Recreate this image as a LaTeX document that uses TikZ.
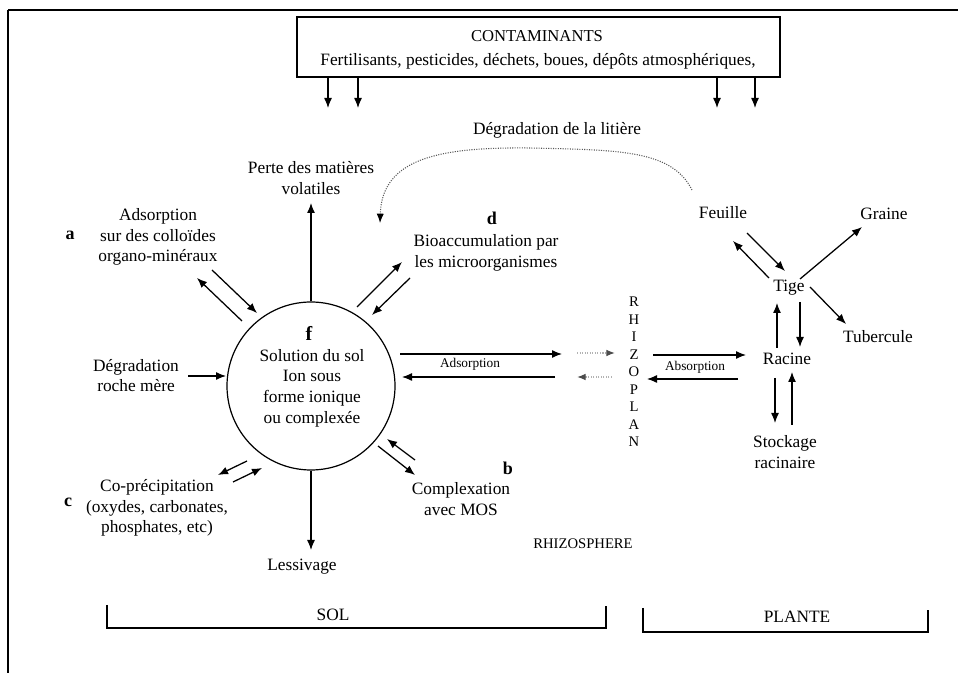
\documentclass[tikz,border=0pt]{standalone}
\usepackage{fontspec}
\setmainfont{Liberation Serif}
\usetikzlibrary{arrows.meta}
\begin{document}
\begin{tikzpicture}[x=0.75pt,y=-0.75pt,
  lbl/.style={font=\fontsize{13}{15.5}\selectfont, align=center, inner sep=0pt},
  sml/.style={font=\fontsize{10}{12}\selectfont, inner sep=0pt},
  tag/.style={font=\bfseries\fontsize{13.5}{16}\selectfont, inner sep=0pt},
  arr/.style={line width=0.95pt, -{Latex[length=7.5pt,width=6pt]}},
  garr/.style={line width=0.9pt, gray!60, densely dotted, -{Latex[length=6.5pt,width=5pt,gray!60!black]}},
  brk/.style={line width=0.9pt},
]
\useasboundingbox (0,0) rectangle (958,673);
% frame
\draw[line width=2pt] (8,10) coordinate (fTL) -- (958,10) coordinate (fTR);
\draw[line width=2pt] (fTL) -- (8,673) coordinate (fBL);

% contaminants box
\node[draw, line width=0.8pt, minimum width=362.25pt, minimum height=45pt, inner sep=0pt] (cont) at (538.5,47) {};
\node[lbl, font=\fontsize{12.5}{15}\selectfont] (contT) at (537,36) {CONTAMINANTS};
\node[lbl] (contL) at (538,61) {Fertilisants, pesticides, déchets, boues, dépôts atmosphériques,};
\coordinate (c1) at (328,108);
\coordinate (c2) at (358,108);
\coordinate (c3) at (717,108);
\coordinate (c4) at (755,108);
\foreach \c in {c1,c2,c3,c4} \draw[arr] (cont.south -| \c) -- (\c);

% litiere
\node[lbl] (lit) at (557,130) {Dégradation de la litière};
\coordinate (litA) at (692,190);
\coordinate (litB) at (380,223);
\draw[line width=0.8pt, gray!70!black, densely dotted, -{Latex[length=7pt,width=5.5pt,black]}]
  (litA) .. controls (672,150) and (620,150) .. (530,148)
         .. controls (440,147) and (382,158) .. (litB);

% soil solution
\node[draw, circle, line width=0.9pt, minimum size=126pt, inner sep=0pt] (sol) at (311,386) {};
\node[lbl] (solT) at (312,388) {Solution du sol\\Ion sous\\forme ionique\\ou complexée};
\node[font=\bfseries\fontsize{15}{18}\selectfont, inner sep=0pt] (f) at (309,333) {f};

% perte
\node[lbl] (perte) at (311,178) {Perte des matières\\volatiles};
\coordinate (pT) at (311,203);
\draw[arr] (sol.north) -- (pT);

% adsorption a
\node[tag] (ta) at (70,235) {a};
\node[lbl] (ads) at (158,237) {Adsorption\\sur des colloïdes\\organo-minéraux};
\coordinate (a1s) at (242,321); \coordinate (a1e) at (197,278);
\coordinate (a2s) at (212,270); \coordinate (a2e) at (257,313);
\draw[arr] (a1s) -- (a1e);
\draw[arr] (a2s) -- (a2e);

% bioaccumulation d
\node[tag] (td) at (492,218) {d};
\node[lbl] (bio) at (486,253) {Bioaccumulation par\\les microorganismes};
\coordinate (d1s) at (357,307); \coordinate (d1e) at (402,262);
\coordinate (d2s) at (410,278); \coordinate (d2e) at (372,315);
\draw[arr] (d1s) -- (d1e);
\draw[arr] (d2s) -- (d2e);

% degradation roche mere
\node[lbl] (roche) at (136,375.5) {Dégradation\\roche mère};
\coordinate (rs) at (188,376);
\coordinate (re) at (226,376);
\draw[arr] (rs) -- (re);

% co-precipitation c
\node[tag] (tc) at (68,502) {c};
\node[lbl] (cop) at (157,508) {Co-précipitation\\(oxydes, carbonates,\\phosphates, etc)};
\coordinate (p1s) at (247,461); \coordinate (p1e) at (218,475);
\coordinate (p2s) at (233,482); \coordinate (p2e) at (262,468);
\draw[arr] (p1s) -- (p1e);
\draw[arr] (p2s) -- (p2e);

% lessivage
\node[lbl] (less) at (302,567) {Lessivage};
\coordinate (lT) at (311,550);
\draw[arr] (sol.south) -- (lT);

% complexation b
\node[tag] (tb) at (508,468) {b};
\node[lbl] (comp) at (461,499) {Complexation\\avec MOS};
\coordinate (b1s) at (378,446); \coordinate (b1e) at (415,475);
\coordinate (b2s) at (415,460); \coordinate (b2e) at (387,439);
\draw[arr] (b1s) -- (b1e);
\draw[arr] (b2s) -- (b2e);

% adsorption to rhizoplan
\coordinate (s1s) at (400,354); \coordinate (s1e) at (562,354);
\coordinate (s2s) at (555,377); \coordinate (s2e) at (402,377);
\draw[arr] (s1s) -- (s1e);
\draw[arr] (s2s) -- (s2e);
\node[sml] (adsl) at (470,364) {Adsorption};
\coordinate (g1s) at (577,353); \coordinate (g1e) at (615,353);
\coordinate (g2s) at (612,377); \coordinate (g2e) at (577,377);
\draw[garr] (g1s) -- (g1e);
\draw[garr] (g2s) -- (g2e);

% rhizoplan
\node[align=center, font=\fontsize{11}{13.1}\selectfont, inner sep=0pt] (rhiz) at (634,372) {R\\H\\I\\Z\\O\\P\\L\\A\\N};

% absorption
\coordinate (r1s) at (653,355); \coordinate (r1e) at (746,355);
\coordinate (r2s) at (738,379); \coordinate (r2e) at (647,379);
\draw[arr] (r1s) -- (r1e);
\draw[arr] (r2s) -- (r2e);
\node[sml] (absl) at (695,367) {Absorption};

% plant
\node[lbl] (feuille) at (723,213) {Feuille};
\node[lbl] (graine) at (884,214) {Graine};
\node[lbl] (tige) at (789,288) {Tige};
\node[lbl] (tuber) at (878,337) {Tubercule};
\node[lbl] (racine) at (787,359) {Racine};
\node[lbl] (stock) at (785,452) {Stockage\\racinaire};
\coordinate (t1s) at (747,233); \coordinate (t1e) at (785,271);
\coordinate (t2s) at (769,278); \coordinate (t2e) at (733,241);
\coordinate (t3s) at (800,279); \coordinate (t3e) at (862,227);
\coordinate (t4s) at (810,287); \coordinate (t4e) at (846,324);
\coordinate (t5s) at (777,348); \coordinate (t5e) at (777,303);
\coordinate (t6s) at (800,302); \coordinate (t6e) at (800,347);
\coordinate (t7s) at (775,378); \coordinate (t7e) at (775,423);
\coordinate (t8s) at (792,425); \coordinate (t8e) at (792,372);
\foreach \i in {1,...,8} \draw[arr] (t\i s) -- (t\i e);

% rhizosphere
\node[lbl, font=\fontsize{11}{13}\selectfont] (rhizo) at (583,544) {RHIZOSPHERE};

% brackets
\coordinate (solA) at (107,605); \coordinate (solB) at (107,628);
\coordinate (solC) at (606,628); \coordinate (solD) at (606,606);
\draw[brk] (solA) -- (solB) -- (solC) -- (solD);
\node[lbl] (solL) at (333,615) {SOL};
\coordinate (plA) at (643,608); \coordinate (plB) at (643,632);
\coordinate (plC) at (928,632); \coordinate (plD) at (928,610);
\draw[brk] (plA) -- (plB) -- (plC) -- (plD);
\node[lbl] (plL) at (797,617) {PLANTE};
\end{tikzpicture}
\end{document}
